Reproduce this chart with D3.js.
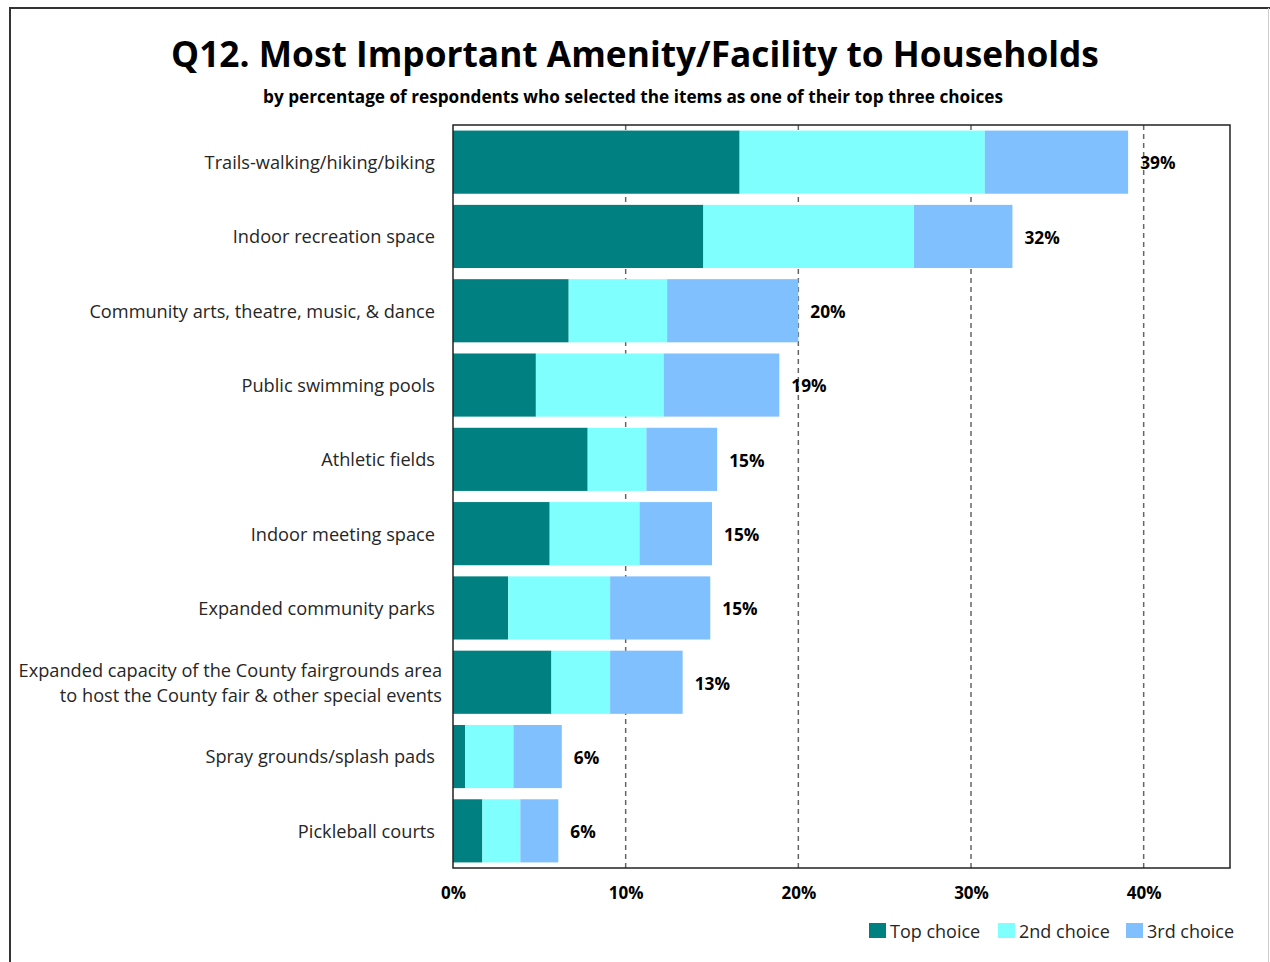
<!DOCTYPE html>
<html>
<head>
<meta charset="utf-8">
<script src="https://cdn.jsdelivr.net/npm/d3@7"></script>
<style>
  html, body { margin: 0; padding: 0; background: #fff; }
  svg { display: block; }
  text { font-family: "Open Sans", "Noto Sans", sans-serif; }
</style>
</head>
<body>
<svg id="chart" width="1270" height="962"></svg>
<script>
// Amenities, top to bottom
const categories = [
  ["Trails-walking/hiking/biking"],
  ["Indoor recreation space"],
  ["Community arts, theatre, music, & dance"],
  ["Public swimming pools"],
  ["Athletic fields"],
  ["Indoor meeting space"],
  ["Expanded community parks"],
  ["Expanded capacity of the County fairgrounds area", "to host the County fair & other special events"],
  ["Spray grounds/splash pads"],
  ["Pickleball courts"]
];

// Percent of respondents by choice rank
const topChoice    = [16.6, 14.5, 6.7, 4.8, 7.8, 5.6, 3.2, 5.7, 0.7, 1.7];
const secondChoice = [14.2, 12.2, 5.7, 7.4, 3.4, 5.2, 5.9, 3.4, 2.8, 2.2];
const thirdChoice  = [ 8.3,  5.7, 7.6, 6.7, 4.1, 4.2, 5.8, 4.2, 2.8, 2.2];

const seriesNames = ["Top choice", "2nd choice", "3rd choice"];
const seriesColors = ["#008080", "#80FFFF", "#80C0FF"];
const tickValues = [0, 10, 20, 30, 40];

const svg = d3.select("#chart");

// Outer frame
svg.append("line").attr("x1", 9).attr("x2", 1270).attr("y1", 8).attr("y2", 8)
  .attr("stroke", "#333").attr("stroke-width", 2);
svg.append("line").attr("x1", 10).attr("x2", 10).attr("y1", 7).attr("y2", 962)
  .attr("stroke", "#333").attr("stroke-width", 2);
svg.append("line").attr("x1", 1268.5).attr("x2", 1268.5).attr("y1", 8).attr("y2", 962)
  .attr("stroke", "#ccc").attr("stroke-width", 1);

// Titles
svg.append("text").attr("x", 635).attr("y", 67).attr("text-anchor", "middle")
  .attr("font-size", 35.3).attr("font-weight", "bold").attr("fill", "#000")
  .text("Q12. Most Important Amenity/Facility to Households");
svg.append("text").attr("x", 633).attr("y", 103).attr("text-anchor", "middle")
  .attr("font-size", 17.2).attr("font-weight", "bold").attr("fill", "#000")
  .text("by percentage of respondents who selected the items as one of their top three choices");

const plot = { left: 453, right: 1230, top: 125, bottom: 868 };

const x = d3.scaleLinear().domain([0, 45]).range([plot.left, plot.right]);
const y = d3.scaleBand().domain(d3.range(categories.length))
  .range([plot.top, plot.bottom]).paddingInner(0.15).paddingOuter(0.075);

// Dashed gridlines
svg.append("g").selectAll("line").data(tickValues.filter(d => d > 0)).join("line")
  .attr("x1", d => x(d)).attr("x2", d => x(d))
  .attr("y1", plot.top).attr("y2", plot.bottom)
  .attr("stroke", "#666").attr("stroke-width", 1.5).attr("stroke-dasharray", "5,4");

// Stacked bars
const rows = categories.map((c, i) => ({ i, vals: [topChoice[i], secondChoice[i], thirdChoice[i]] }));
const stack = d3.stack().keys([0, 1, 2]).value((d, k) => d.vals[k]);
const layers = stack(rows);

svg.append("g").selectAll("g").data(layers).join("g")
  .attr("fill", (d, k) => seriesColors[k])
  .selectAll("rect").data(d => d).join("rect")
  .attr("x", d => x(d[0]))
  .attr("width", d => x(d[1]) - x(d[0]))
  .attr("y", d => y(d.data.i))
  .attr("height", y.bandwidth());

// Plot frame
svg.append("rect").attr("x", plot.left).attr("y", plot.top)
  .attr("width", plot.right - plot.left).attr("height", plot.bottom - plot.top)
  .attr("fill", "none").attr("stroke", "#222").attr("stroke-width", 1.5);

// Total labels
svg.append("g").selectAll("text").data(rows).join("text")
  .attr("x", d => x(d3.sum(d.vals)) + 12)
  .attr("y", d => y(d.i) + y.bandwidth() / 2)
  .attr("dy", "0.42em")
  .attr("font-size", 17.3).attr("font-weight", "bold").attr("fill", "#000")
  .text(d => Math.round(d3.sum(d.vals)) + "%");

// Category labels
const catG = svg.append("g");
categories.forEach((lines, i) => {
  const cy = y(i) + y.bandwidth() / 2;
  const multi = lines.length > 1;
  const t = catG.append("text")
    .attr("x", multi ? 442 : 435)
    .attr("text-anchor", "end")
    .attr("font-size", 18.2).attr("fill", "#262626");
  lines.forEach((ln, j) => {
    t.append("tspan").attr("x", multi ? 442 : 435)
      .attr("y", cy + (j - (lines.length - 1) / 2) * 25)
      .attr("dy", "0.38em").text(ln);
  });
});

// X axis labels
const xAxis = d3.axisBottom(x).tickValues(tickValues).tickFormat(d => d + "%").tickSize(0).tickPadding(0);
const ax = svg.append("g").attr("transform", `translate(0,${plot.bottom})`).call(xAxis);
ax.select(".domain").remove();
ax.selectAll("text").attr("y", 25).attr("dy", "0.35em")
  .attr("font-size", 17).attr("font-weight", "bold").attr("fill", "#000")
  .attr("font-family", "\"Open Sans\", sans-serif");

// Legend
const legendX = [869, 998, 1126];
const lg = svg.append("g").selectAll("g").data(seriesNames).join("g")
  .attr("transform", (d, k) => `translate(${legendX[k]},931)`);
lg.append("rect").attr("x", 0).attr("y", -8).attr("width", 17).attr("height", 15)
  .attr("fill", (d, k) => seriesColors[k]);
lg.append("text").attr("x", 21).attr("y", 0).attr("dy", "0.37em")
  .attr("font-size", 18).attr("fill", "#262626").text(d => d);
</script>
</body>
</html>
